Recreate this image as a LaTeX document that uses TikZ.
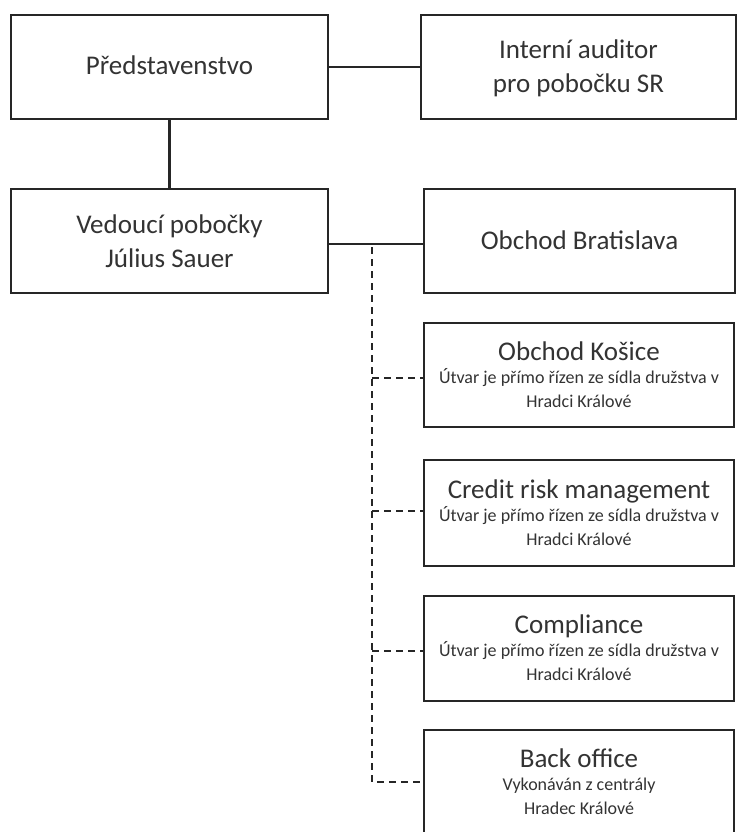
\documentclass[tikz,border=0pt]{standalone}
\usepackage{fontspec}
\setmainfont{Carlito}
\usetikzlibrary{calc}
\definecolor{linec}{HTML}{262626}
\definecolor{textc}{HTML}{333333}
\tikzset{
  box/.style={draw=linec, line width=2.1pt, inner sep=0pt, fill=white},
  conn/.style={draw=linec, line width=2.1pt},
  dconn/.style={draw=linec, line width=2.1pt, dash pattern=on 7pt off 5pt},
  ttl/.style={font=\fontsize{27}{33}\selectfont, text=textc, anchor=base, inner sep=0pt},
  subt/.style={font=\fontsize{18}{24}\selectfont, text=textc, anchor=base, inner sep=0pt},
}
\begin{document}
\begin{tikzpicture}[x=1pt, y=-1pt]
\useasboundingbox (0,0) rectangle (738,832);
\clip (0,0) rectangle (738,832);
\fill[white] (0,0) rectangle (738,832);
% boxes
\node[box, minimum width=317pt, minimum height=104pt] (b1) at (169.5,67) {};
\node[box, minimum width=315pt, minimum height=104pt] (b2) at (578.5,67) {};
\node[box, minimum width=317pt, minimum height=104pt] (b3) at (169.5,241) {};
\node[box, minimum width=311pt, minimum height=104pt] (b4) at (579.5,241) {};
\node[box, minimum width=310pt, minimum height=104pt] (b5) at (579,375) {};
\node[box, minimum width=310pt, minimum height=106pt] (b6) at (579,513) {};
\node[box, minimum width=310pt, minimum height=105pt] (b7) at (579,648.5) {};
\node[box, minimum width=310pt, minimum height=104pt] (b8) at (579,782) {};
% texts
\node[ttl] (t1) at ($(b1.center)+(0,8)$) {Představenstvo};
\node[ttl] (t2a) at ($(b2.center)+(0,-8)$) {Interní auditor};
\node[ttl] (t2b) at ($(b2.center)+(0,26)$) {pro pobočku SR};
\node[ttl] (t3a) at ($(b3.center)+(0,-8)$) {Vedoucí pobočky};
\node[ttl] (t3b) at ($(b3.center)+(0,26)$) {Július Sauer};
\node[ttl] (t4) at ($(b4.center)+(0,8)$) {Obchod Bratislava};
\node[ttl] (t5) at ($(b5.center)+(0,-15)$) {Obchod Košice};
\node[subt] (s5a) at ($(b5.center)+(0,8)$) {Útvar je přímo řízen ze sídla družstva v};
\node[subt] (s5b) at ($(b5.center)+(0,32)$) {Hradci Králové};
\node[ttl] (t6) at ($(b6.center)+(0,-15)$) {Credit risk management};
\node[subt] (s6a) at ($(b6.center)+(0,8)$) {Útvar je přímo řízen ze sídla družstva v};
\node[subt] (s6b) at ($(b6.center)+(0,32)$) {Hradci Králové};
\node[ttl] (t7) at ($(b7.center)+(0,-15)$) {Compliance};
\node[subt] (s7a) at ($(b7.center)+(0,8)$) {Útvar je přímo řízen ze sídla družstva v};
\node[subt] (s7b) at ($(b7.center)+(0,32)$) {Hradci Králové};
\node[ttl] (t8) at ($(b8.center)+(0,-15)$) {Back office};
\node[subt] (s8a) at ($(b8.center)+(0,8)$) {Vykonáván z centrály};
\node[subt] (s8b) at ($(b8.center)+(0,32)$) {Hradec Králové};
% connectors
\draw[conn] (b1.east) -- (b2.west);
\draw[conn] (b1.south) -- (b3.north);
\coordinate (j) at (372,244);
\draw[conn] (b3.east |- j) -- (b4.west |- j);
\coordinate (c5) at (372,378);
\coordinate (c6) at (372,511);
\coordinate (c7) at (372,651);
\coordinate (c8) at (372,782);
\draw[dconn] ($(j)+(0,3)$) -- (c8) -- (c8 -| b8.west);
\draw[dconn] (c5) -- (c5 -| b5.west);
\draw[dconn] (c6) -- (c6 -| b6.west);
\draw[dconn] (c7) -- (c7 -| b7.west);
\end{tikzpicture}
\end{document}
